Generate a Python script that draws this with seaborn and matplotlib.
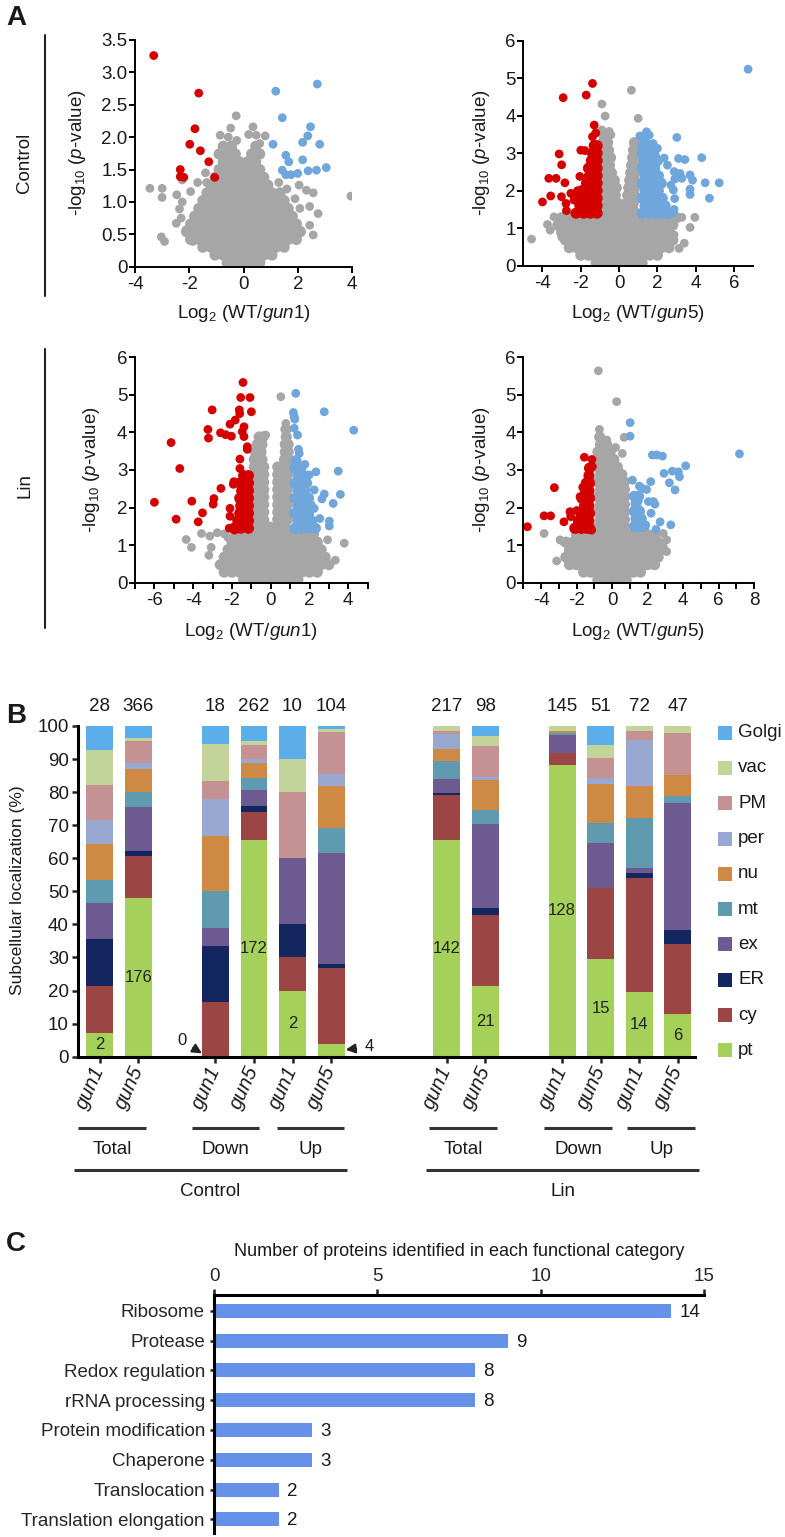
import matplotlib
matplotlib.use("Agg")
import matplotlib.pyplot as plt
import matplotlib.transforms as mtransforms
from matplotlib.lines import Line2D
from matplotlib.patches import Rectangle
import seaborn as sns

# ======================= DATA =======================
# ---- Panel A: volcano plots (log2 ratio, -log10 p) ----
# dense gray clouds given as rows: (y, [x, x, ...])
tl_gray_core = [
    (0.06, [-0.6, -0.3, 0, 0.3, 0.6]),
    (0.18, [-1.05, -0.75, -0.45, -0.15, 0.15, 0.45, 0.75, 1.05]),
    (0.30, [-1.5, -1.2, -0.9, -0.6, -0.3, 0, 0.3, 0.6, 0.9, 1.2, 1.5]),
    (0.42, [-1.95, -1.65, -1.35, -1.05, -0.75, -0.45, -0.15, 0.15, 0.45, 0.75, 1.05, 1.35, 1.65, 1.95]),
    (0.54, [-2.1, -1.8, -1.5, -1.2, -0.9, -0.6, -0.3, 0, 0.3, 0.6, 0.9, 1.2, 1.5, 1.8, 2.1]),
    (0.66, [-1.95, -1.65, -1.35, -1.05, -0.75, -0.45, -0.15, 0.15, 0.45, 0.75, 1.05, 1.35, 1.65, 1.95]),
    (0.78, [-1.8, -1.5, -1.2, -0.9, -0.6, -0.3, 0, 0.3, 0.6, 0.9, 1.2, 1.5, 1.8]),
    (0.90, [-1.65, -1.35, -1.05, -0.75, -0.45, -0.15, 0.15, 0.45, 0.75, 1.05, 1.35, 1.65]),
    (1.02, [-1.5, -1.2, -0.9, -0.6, -0.3, 0, 0.3, 0.6, 0.9, 1.2, 1.5]),
    (1.14, [-1.35, -1.05, -0.75, -0.45, -0.15, 0.15, 0.45, 0.75, 1.05, 1.35]),
    (1.26, [-1.2, -0.9, -0.6, -0.3, 0, 0.3, 0.6, 0.9]),
    (1.38, [-1.05, -0.75, -0.45, -0.15, 0.15, 0.45, 0.75]),
    (1.50, [-0.9, -0.6, -0.3, 0, 0.3, 0.6]),
    (1.62, [-0.75, -0.45, -0.15, 0.15, 0.45]),
    (1.74, [-0.9, -0.6, -0.3, 0.3, 0.6]),
    (1.86, [-0.75, -0.45, 0.45]),
]
tl_gray_pts = [(-3.45, 1.21), (-3.0, 1.21), (-3.0, 1.07), (-2.46, 1.11), (-2.26, 1.34), (-1.95, 1.16),
               (-1.69, 1.30), (-1.36, 1.30), (-2.36, 0.89), (-2.48, 0.67), (-2.26, 1.0), (-3.03, 0.46),
               (-2.91, 0.39), (-1.87, 0.39), (-2.12, 0.57), (-0.27, 2.33), (-0.47, 2.14), (-0.86, 2.03),
               (-0.56, 2.0), (0.19, 2.04), (0.35, 2.16), (0.47, 2.03), (0.8, 2.02), (3.96, 1.09),
               (2.57, 1.14), (2.32, 1.18), (2.05, 1.26), (2.44, 0.93), (2.08, 0.9), (2.75, 0.82),
               (2.44, 0.64), (2.57, 0.49), (2.08, 0.57), (1.78, 0.72), (-0.25, 1.95), (-0.4, 1.85),
               (0.6, 1.9), (-2.3, 0.75), (-1.4, 1.45), (1.3, 1.3), (1.6, 1.2), (1.9, 1.05)]
tl_red_core = []
tl_red_pts = [(-3.31, 3.26), (-1.65, 2.68), (-1.79, 2.13), (-1.98, 1.89), (-1.59, 1.79), (-1.28, 1.62),
              (-2.33, 1.50), (-2.33, 1.39), (-2.2, 1.38), (-1.06, 1.38)]
tl_blue_core = []
tl_blue_pts = [(1.19, 2.71), (2.72, 2.82), (1.43, 2.30), (2.47, 2.16), (2.37, 2.02), (2.18, 1.92),
               (2.81, 1.89), (1.09, 1.89), (1.56, 1.72), (1.67, 1.62), (2.18, 1.65), (1.43, 1.49),
               (1.56, 1.42), (1.75, 1.42), (2.0, 1.44), (2.38, 1.48), (2.69, 1.49), (3.05, 1.53)]

tr_gray_core = [
    (0.08, [-1.2, -0.8, -0.4, 0, 0.4, 0.8, 1.2]),
    (0.28, [-2.0, -1.6, -1.2, -0.8, -0.4, 0, 0.4, 0.8, 1.2, 1.6, 2.0]),
    (0.48, [-2.6, -2.2, -1.8, -1.4, -1.0, -0.6, -0.2, 0.2, 0.6, 1.0, 1.4, 1.8, 2.2, 2.6]),
    (0.68, [-2.8, -2.4, -2.0, -1.6, -1.2, -0.8, -0.4, 0, 0.4, 0.8, 1.2, 1.6, 2.0, 2.4, 2.8]),
    (0.88, [-3.0, -2.6, -2.2, -1.8, -1.4, -1.0, -0.6, -0.2, 0.2, 0.6, 1.0, 1.4, 1.8, 2.2, 2.6]),
    (1.08, [-3.2, -2.8, -2.4, -2.0, -1.6, -1.2, -0.8, -0.4, 0, 0.4, 0.8, 1.2, 1.6, 2.0, 2.4, 2.8]),
    (1.28, [-3.0, -2.6, -2.2, -1.8, -1.4, -1.0, -0.6, -0.2, 0.2, 0.6, 1.0, 1.4, 1.8, 2.2, 2.6, 3.0]),
    (1.48, [-0.85, -0.45, -0.05, 0.35, 0.75]),
    (1.68, [-0.7, -0.35, -0.1, 0.4, 0.75]),
    (1.88, [-0.85, -0.5, -0.2, 0.45, 0.8]),
    (2.08, [-0.7, -0.35, -0.15, 0.5, 0.8]),
    (2.28, [-0.85, -0.5, -0.25, 0.55, 0.8]),
    (2.48, [-0.75, -0.4, 0.6, 0.85]),
    (2.68, [-0.85, -0.5, 0.65, 0.85]),
    (2.88, [-0.7, -0.45, 0.7, 0.9]),
    (3.08, [-0.85, -0.55, 0.75, 0.9]),
    (3.28, [-0.85, -0.6, 0.8]),
    (3.48, [-0.8]),
]
tr_gray_pts = [(-4.57, 0.71), (-3.74, 1.10), (-2.99, 0.76), (-2.87, 0.95), (-0.90, 4.31), (-0.73, 3.99),
               (-0.90, 3.62), (-0.52, 3.58), (-0.43, 3.49), (0.64, 4.68), (0.99, 3.93), (3.27, 1.29),
               (3.95, 1.29), (3.70, 1.02), (3.13, 0.46), (2.87, 0.82), (-3.4, 1.3), (-3.6, 0.95), (3.4, 0.6)]
tr_red_core = [
    (1.40, [-2.25, -1.85, -1.5, -1.15]),
    (1.60, [-2.05, -1.7, -1.4, -1.15]),
    (1.80, [-2.25, -1.85, -1.5, -1.15]),
    (2.00, [-1.95, -1.6, -1.35, -1.15]),
    (2.20, [-1.7, -1.4, -1.15]),
    (2.40, [-1.55, -1.35, -1.15]),
    (2.60, [-1.6, -1.35, -1.15]),
    (2.80, [-1.45, -1.15]),
    (3.00, [-1.4, -1.15]),
    (3.20, [-1.3, -1.15]),
]
tr_red_pts = [(-1.39, 4.86), (-1.72, 4.55), (-2.92, 4.48), (-1.30, 3.75), (-1.22, 3.54), (-1.39, 3.44),
              (-3.13, 2.98), (-3.0, 2.69), (-3.67, 2.33), (-3.29, 2.33), (-2.83, 2.21), (-2.0, 3.08),
              (-1.79, 3.07), (-2.05, 2.38), (-4.0, 1.70), (-3.57, 1.86), (-3.01, 1.84), (-2.77, 1.66),
              (-2.75, 1.47), (-2.52, 1.93), (-2.35, 1.75), (-2.17, 2.0)]
tr_blue_core = [
    (1.40, [1.2, 1.55, 1.9, 2.25, 2.55]),
    (1.60, [1.35, 1.7, 2.05, 2.4]),
    (1.80, [1.2, 1.55, 1.9, 2.25]),
    (2.00, [1.35, 1.7, 2.05]),
    (2.20, [1.2, 1.55, 1.9, 2.2]),
    (2.40, [1.35, 1.7, 2.05]),
    (2.60, [1.2, 1.55, 1.85]),
    (2.80, [1.3, 1.65, 2.0]),
    (3.00, [1.2, 1.5, 1.8]),
    (3.20, [1.25, 1.55]),
    (3.40, [1.3]),
]
tr_blue_pts = [(6.73, 5.24), (1.43, 3.57), (1.57, 3.48), (1.08, 3.46), (3.01, 3.42), (1.77, 3.26),
               (2.0, 3.13), (4.31, 2.88), (3.1, 2.86), (3.43, 2.83), (1.91, 2.91), (2.35, 2.87),
               (2.52, 2.68), (2.87, 2.51), (3.18, 2.46), (3.70, 2.42), (3.83, 2.28), (4.49, 2.21),
               (5.22, 2.21), (3.27, 2.33), (2.90, 2.31), (2.70, 2.15), (2.83, 2.02), (3.70, 2.04),
               (3.70, 1.90), (4.71, 1.80), (2.90, 1.79), (2.43, 1.48), (2.87, 1.50), (2.82, 1.40)]

bl_gray_core = [
    (0.08, [-1.4, -1.0, -0.6, -0.2, 0.2, 0.6, 1.0, 1.4]),
    (0.28, [-2.4, -2.0, -1.6, -1.2, -0.8, -0.4, 0, 0.4, 0.8, 1.2, 1.6, 2.0, 2.4]),
    (0.48, [-2.6, -2.2, -1.8, -1.4, -1.0, -0.6, -0.2, 0.2, 0.6, 1.0, 1.4, 1.8, 2.2, 2.6, 3.0]),
    (0.68, [-2.4, -2.0, -1.6, -1.2, -0.8, -0.4, 0, 0.4, 0.8, 1.2, 1.6, 2.0, 2.4, 2.8]),
    (0.88, [-2.2, -1.8, -1.4, -1.0, -0.6, -0.2, 0.2, 0.6, 1.0, 1.4, 1.8, 2.2, 2.6]),
    (1.08, [-2.0, -1.6, -1.2, -0.8, -0.4, 0, 0.4, 0.8, 1.2, 1.6, 2.0, 2.4]),
    (1.28, [-1.8, -1.4, -1.0, -0.6, -0.2, 0.2, 0.6, 1.0, 1.4, 1.8, 2.2]),
    (1.48, [-0.85, -0.45, -0.05, 0.35, 0.75]),
    (1.68, [-0.85, -0.6, -0.36, 0.36, 0.6, 0.85]),
    (1.88, [-0.85, -0.6, -0.36, 0.36, 0.6, 0.85]),
    (2.08, [-0.85, -0.6, -0.36, 0.36, 0.6, 0.85]),
    (2.28, [-0.85, -0.6, -0.36, 0.36, 0.6, 0.85]),
    (2.48, [-0.85, -0.6, -0.36, 0.36, 0.6, 0.85]),
    (2.68, [-0.85, -0.6, -0.36, 0.36, 0.6, 0.85]),
    (2.88, [-0.85, -0.6, -0.36, 0.36, 0.6, 0.85]),
    (3.08, [-0.85, -0.6, -0.36, 0.36, 0.6, 0.85]),
    (3.28, [-0.85, -0.6, -0.45, 0.71, 0.9]),
    (3.48, [-0.8, -0.5, 0.75, 0.9]),
    (3.68, [-0.7, -0.45, 0.75, 0.9]),
    (3.88, [-0.6, -0.4, 0.8]),
    (4.08, [0.78]),
]
bl_gray_pts = [(-4.36, 1.15), (-4.09, 0.94), (-3.57, 1.31), (-3.14, 1.24), (-3.07, 0.94), (-3.19, 0.73),
               (-2.76, 1.33), (3.79, 1.05), (2.93, 1.14), (2.84, 0.69), (2.67, 0.51), (3.33, 0.6),
               (0.52, 4.95), (-0.26, 3.93), (0.78, 4.24), (-2.4, 1.3), (-2.2, 1.2)]
bl_red_core = [
    (1.45, [-1.9, -1.55, -1.15]),
    (1.65, [-1.7, -1.4, -1.15]),
    (1.85, [-1.6, -1.35, -1.15]),
    (2.05, [-1.55, -1.15]),
    (2.25, [-1.6, -1.35, -1.15]),
    (2.45, [-1.5, -1.15]),
    (2.65, [-1.6, -1.35, -1.15]),
    (2.85, [-1.4, -1.15]),
]
bl_red_pts = [(-6.0, 2.14), (-5.14, 3.73), (-4.69, 3.04), (-4.88, 1.69), (-4.07, 2.17), (-3.74, 1.62),
              (-3.52, 1.86), (-3.02, 4.60), (-3.24, 4.08), (-3.21, 3.85), (-2.97, 2.09), (-2.93, 2.24),
              (-2.57, 2.51), (-2.59, 3.99), (-2.33, 3.94), (-2.03, 3.90), (-2.10, 4.22), (-1.83, 4.33),
              (-1.62, 4.60), (-1.6, 4.5), (-1.43, 5.33), (-1.55, 4.93), (-1.07, 4.93), (-1.0, 4.55),
              (-1.38, 4.15), (-1.47, 4.02), (-1.38, 3.89), (-1.21, 3.62), (-1.21, 3.55), (-1.59, 3.29),
              (-1.59, 3.04), (-1.9, 2.69), (-1.93, 2.62), (-2.10, 1.98), (-2.1, 1.77), (-2.14, 1.45),
              (-1.86, 1.40)]
bl_blue_core = [
    (1.45, [1.25, 1.6, 1.95, 2.3]),
    (1.65, [1.4, 1.75, 2.1]),
    (1.85, [1.25, 1.6, 1.95]),
    (2.05, [1.4, 1.75, 2.05]),
    (2.25, [1.25, 1.6, 1.95]),
    (2.45, [1.4, 1.75]),
    (2.65, [1.25, 1.6, 1.85]),
    (2.85, [1.4, 1.7]),
    (3.05, [1.25, 1.55]),
    (3.25, [1.3]),
]
bl_blue_pts = [(1.29, 5.04), (1.17, 4.53), (1.21, 4.42), (1.24, 4.35), (2.76, 4.55), (4.28, 4.06),
               (1.21, 4.11), (1.38, 3.93), (1.43, 3.55), (1.47, 3.44), (1.76, 3.15), (2.33, 2.95),
               (3.48, 2.97), (2.76, 2.36), (2.64, 2.23), (3.22, 2.11), (3.59, 2.35), (2.24, 2.47),
               (2.24, 1.98), (2.53, 1.71), (3.02, 1.64), (3.02, 1.51), (1.98, 2.87)]

br_gray_core = [
    (0.08, [-0.8, -0.4, 0, 0.4, 0.8]),
    (0.28, [-1.6, -1.2, -0.8, -0.4, 0, 0.4, 0.8, 1.2, 1.6]),
    (0.48, [-2.4, -2.0, -1.6, -1.2, -0.8, -0.4, 0, 0.4, 0.8, 1.2, 1.6, 2.0, 2.4]),
    (0.68, [-2.6, -2.2, -1.8, -1.4, -1.0, -0.6, -0.2, 0.2, 0.6, 1.0, 1.4, 1.8, 2.2, 2.6]),
    (0.88, [-2.4, -2.0, -1.6, -1.2, -0.8, -0.4, 0, 0.4, 0.8, 1.2, 1.6, 2.0, 2.4, 2.8]),
    (1.08, [-2.6, -2.2, -1.8, -1.4, -1.0, -0.6, -0.2, 0.2, 0.6, 1.0, 1.4, 1.8, 2.2, 2.6]),
    (1.28, [-2.0, -1.6, -1.2, -0.8, -0.4, 0, 0.4, 0.8, 1.2, 1.6, 2.0, 2.4]),
    (1.48, [-0.8, -0.4, 0, 0.4, 0.7]),
    (1.68, [-0.65, -0.25, 0.15, 0.55, 0.7]),
    (1.88, [-0.8, -0.4, 0, 0.4, 0.7]),
    (2.08, [-0.65, -0.25, 0.15, 0.55, 0.7]),
    (2.28, [-0.8, -0.4, 0, 0.4, 0.7]),
    (2.48, [-0.65, -0.25, 0.15, 0.55, 0.7]),
    (2.68, [-0.8, -0.4, 0, 0.4, 0.7]),
    (2.88, [-0.65, -0.25, 0.15, 0.55]),
    (3.08, [-0.8, -0.45, -0.05, 0.3]),
    (3.28, [-0.65, -0.25, 0.1]),
    (3.48, [-0.8, -0.45, -0.1]),
    (3.68, [-0.65, -0.3]),
    (3.88, [-0.7]),
]
br_gray_pts = [(-0.77, 5.64), (0.26, 4.82), (-0.71, 4.08), (0.68, 3.87), (0.58, 3.44), (-3.83, 1.31),
               (-3.12, 0.58), (-2.93, 1.14), (-2.74, 1.09), (2.89, 1.31), (3.08, 1.14), (2.89, 0.96),
               (3.08, 0.83), (2.42, 0.47), (-0.3, 3.8), (0.2, 3.6), (0.5, 2.9)]
br_red_core = [
    (1.45, [-2.1, -1.75, -1.45, -1.27]),
    (1.65, [-1.9, -1.6, -1.3]),
    (1.85, [-1.75, -1.5, -1.27]),
    (2.05, [-1.55, -1.3]),
    (2.25, [-1.7, -1.45, -1.27]),
    (2.45, [-1.5, -1.3]),
    (2.65, [-1.45, -1.27]),
    (2.85, [-1.3]),
    (3.05, [-1.27]),
]
br_red_pts = [(-4.77, 1.49), (-3.83, 1.78), (-3.46, 1.78), (-3.25, 2.53), (-2.71, 1.62), (-2.33, 1.76),
              (-2.37, 1.89), (-2.05, 1.42), (-1.71, 1.42), (-1.56, 3.34), (-1.13, 3.28), (-1.11, 3.09),
              (-1.65, 2.54), (-1.8, 2.29), (-1.65, 2.2), (-1.99, 1.92), (-1.43, 2.02), (-1.24, 1.85),
              (-1.33, 1.62), (-1.15, 1.4)]
br_blue_core = [
    (1.5, [1.25, 1.55, 1.8]),
    (1.7, [1.35, 1.65]),
    (1.9, [1.25, 1.55]),
    (2.1, [1.35]),
    (2.3, [1.25, 1.5]),
]
br_blue_pts = [(7.18, 3.43), (1.02, 4.26), (1.02, 3.90), (2.27, 3.40), (2.52, 3.40), (2.84, 3.37),
               (3.40, 2.97), (3.74, 2.95), (4.15, 3.11), (3.8, 2.82), (2.93, 2.91), (1.15, 2.73),
               (1.54, 2.57), (1.71, 2.51), (2.18, 2.69), (1.95, 2.48), (3.23, 2.66), (3.55, 2.47),
               (2.05, 2.16), (2.33, 2.16), (2.42, 2.09), (1.48, 2.18), (2.2, 1.85), (2.71, 1.62),
               (3.31, 1.54), (2.48, 1.42), (1.9, 1.54)]

# ---- Panel B: subcellular localization counts per bar ----
bar_conditions = ["Control"] * 6 + ["Lin"] * 6
bar_sets = ["Total", "Total", "Down", "Down", "Up", "Up"] * 2
bar_genotypes = ["gun1", "gun5"] * 6
bar_totals = [28, 366, 18, 262, 10, 104, 217, 98, 145, 51, 72, 47]
loc_categories = ["pt", "cy", "ER", "ex", "mt", "nu", "per", "PM", "vac", "Golgi"]
cnt_pt = [2, 176, 0, 172, 2, 4, 142, 21, 128, 15, 14, 6]
cnt_cy = [4, 46, 3, 22, 1, 24, 30, 21, 5, 11, 25, 10]
cnt_ER = [4, 6, 3, 5, 1, 1, 1, 2, 0, 0, 1, 2]
cnt_ex = [3, 48, 1, 12, 2, 35, 9, 25, 8, 7, 1, 18]
cnt_mt = [2, 17, 2, 10, 0, 8, 12, 4, 1, 3, 11, 1]
cnt_nu = [3, 25, 3, 12, 0, 13, 8, 9, 1, 6, 7, 3]
cnt_per = [2, 7, 2, 3, 0, 4, 10, 1, 0, 1, 10, 0]
cnt_PM = [3, 24, 1, 11, 2, 13, 2, 9, 0, 3, 2, 6]
cnt_vac = [3, 4, 2, 3, 1, 1, 3, 3, 2, 2, 1, 1]
cnt_Golgi = [2, 13, 1, 12, 1, 1, 0, 3, 0, 3, 0, 0]

# ---- Panel C: functional categories ----
func_categories = ["Ribosome", "Protease", "Redox regulation", "rRNA processing",
                   "Protein modification", "Chaperone", "Translocation", "Translation elongation"]
func_counts = [14, 9, 8, 8, 3, 3, 2, 2]

# ======================= STYLE =======================
sns.set_theme(style="ticks")
plt.rcParams["font.family"] = ["Liberation Sans", "DejaVu Sans"]
plt.rcParams["mathtext.fontset"] = "custom"
plt.rcParams["mathtext.rm"] = "Liberation Sans"
plt.rcParams["mathtext.it"] = "Liberation Sans:italic"
plt.rcParams["mathtext.bf"] = "Liberation Sans:bold"
plt.rcParams["text.color"] = "#1a1a1a"

GRAY, RED, BLUE = "#A6A6A6", "#D40000", "#6FA6DC"
S_PT, S_CORE = 40, 64
LOC_COLORS = {"Golgi": "#5BAEEA", "vac": "#C3D49B", "PM": "#C49292", "per": "#98A8D0",
              "nu": "#CE8A45", "mt": "#5F9AAE", "ex": "#6C5A90", "ER": "#142660",
              "cy": "#9B4545", "pt": "#A5D15A"}
FS = 13.5

W, H = 785, 1537
fig = plt.figure(figsize=(W / 100, H / 100), dpi=100)


def box(x0, y0, x1, y1):
    return [x0 / W, 1 - y1 / H, (x1 - x0) / W, (y1 - y0) / H]


def fx(x):
    return x / W


def fy(y):
    return 1 - y / H


def rows_xy(rows):
    xs, ys = [], []
    for y, xl in rows:
        for x in xl:
            xs.append(x)
            ys.append(y)
    return xs, ys


def volcano(ax, layers):
    for data, col, s, is_rows in layers:
        if is_rows:
            xs, ys = rows_xy(data)
        else:
            xs = [p[0] for p in data]
            ys = [p[1] for p in data]
        if xs:
            sns.scatterplot(x=xs, y=ys, color=col, s=s, linewidth=0, edgecolor="none",
                            legend=False, ax=ax)


def style_volcano(ax, xlim, ylim, xticks, xlabels, yticks, ylabels):
    ax.set_xlim(*xlim)
    ax.set_ylim(*ylim)
    ax.set_xticks(xticks)
    ax.set_xticklabels(xlabels, fontsize=FS)
    ax.set_yticks(yticks)
    ax.set_yticklabels(ylabels, fontsize=FS)
    for s in ["top", "right"]:
        ax.spines[s].set_visible(False)
    for s in ["left", "bottom"]:
        ax.spines[s].set_color("black")
        ax.spines[s].set_linewidth(1.4)
    ax.tick_params(direction="out", length=4, width=1.4, color="black", labelcolor="#1a1a1a")
    ax.tick_params(axis="x", pad=3)
    ax.tick_params(axis="y", pad=1.5)
    ax.set_xlabel("")
    ax.set_ylabel("")


def even_labels(rng):
    return [str(v) if v % 2 == 0 else "" for v in rng]


panels = [
    (box(135, 40, 352, 266.7), tl_gray_core, tl_gray_pts, tl_red_core, tl_red_pts, tl_blue_core, tl_blue_pts,
     (-4, 4), (0, 3.5), [-4, -2, 0, 2, 4], ["-4", "-2", "0", "2", "4"],
     [0, 0.5, 1, 1.5, 2, 2.5, 3, 3.5], ["0", "0.5", "1.0", "1.5", "2.0", "2.5", "3.0", "3.5"]),
    (box(523.3, 40.7, 753.3, 265.7), tr_gray_core, tr_gray_pts, tr_red_core, tr_red_pts, tr_blue_core, tr_blue_pts,
     (-5, 7), (0, 6), [-4, -2, 0, 2, 4, 6], ["-4", "-2", "0", "2", "4", "6"],
     list(range(7)), [str(v) for v in range(7)]),
    (box(135, 357.3, 367.7, 582.7), bl_gray_core, bl_gray_pts, bl_red_core, bl_red_pts, bl_blue_core, bl_blue_pts,
     (-7, 5), (0, 6), list(range(-7, 6)), even_labels(range(-7, 6)),
     list(range(7)), [str(v) for v in range(7)]),
    (box(523.3, 357.3, 754, 582.7), br_gray_core, br_gray_pts, br_red_core, br_red_pts, br_blue_core, br_blue_pts,
     (-5, 8), (0, 6), list(range(-5, 9)), even_labels(range(-5, 9)),
     list(range(7)), [str(v) for v in range(7)]),
]
for (rect, gc, gp, rc, rp, bc, bp, xlim, ylim, xt, xl, yt, yl) in panels:
    ax = fig.add_axes(rect)
    volcano(ax, [(gc, GRAY, S_CORE, True), (gp, GRAY, S_PT, False),
                 (rc, RED, S_CORE, True), (rp, RED, S_PT, False),
                 (bc, BLUE, S_CORE, True), (bp, BLUE, S_PT, False)])
    style_volcano(ax, xlim, ylim, xt, xl, yt, yl)

ylab = r"-log$_{10}$ ($\it{p}$-value)"
for (x, y) in [(78, 153), (482, 153), (92, 470), (482, 470)]:
    fig.text(fx(x), fy(y), ylab, rotation=90, ha="center", va="center", fontsize=FS)
for (x, y, g) in [(244, 314, "gun1"), (638, 314, "gun5"), (251, 631, "gun1"), (638, 631, "gun5")]:
    fig.text(fx(x), fy(y), r"Log$_2$ (WT/$\it{" + g + "}$)", ha="center", va="center", fontsize=FS)

fig.text(fx(25), fy(163), "Control", rotation=90, ha="center", va="center", fontsize=FS)
fig.text(fx(25), fy(485), "Lin", rotation=90, ha="center", va="center", fontsize=FS)
fig.add_artist(Line2D([fx(45), fx(45)], [fy(35), fy(296)], color="#222222", lw=1.5))
fig.add_artist(Line2D([fx(45), fx(45)], [fy(349), fy(628)], color="#222222", lw=1.5))

# ======================= PANEL B =======================
axb = fig.add_axes(box(78, 726, 695, 1056.7))
positions = [0, 1, 3, 4, 5, 6, 9, 10, 12, 13, 14, 15]
counts = {"pt": cnt_pt, "cy": cnt_cy, "ER": cnt_ER, "ex": cnt_ex, "mt": cnt_mt, "nu": cnt_nu,
          "per": cnt_per, "PM": cnt_PM, "vac": cnt_vac, "Golgi": cnt_Golgi}
cum = {}
running = [0.0] * len(positions)
for c in loc_categories:
    running = [r + 100.0 * v / t for r, v, t in zip(running, counts[c], bar_totals)]
    cum[c] = list(running)
for c in reversed(loc_categories):
    sns.barplot(x=positions, y=cum[c], native_scale=True, orient="x", color=LOC_COLORS[c],
                saturation=1, width=0.7, linewidth=0, errorbar=None, ax=axb)

axb.set_xlim(-0.57, 15.45)
axb.set_ylim(0, 100)
axb.set_yticks(range(0, 101, 10))
axb.set_yticklabels([str(v) for v in range(0, 101, 10)], fontsize=FS)
axb.set_xticks(positions)
axb.set_xticklabels(bar_genotypes, rotation=66, ha="right", va="center", rotation_mode="anchor",
                    fontstyle="italic", fontsize=14.5)
for s in ["top", "right"]:
    axb.spines[s].set_visible(False)
for s in ["left", "bottom"]:
    axb.spines[s].set_color("black")
    axb.spines[s].set_linewidth(2.2)
axb.tick_params(direction="out", length=4.5, width=1.8, color="#222222", labelcolor="#1a1a1a")
axb.tick_params(axis="x", pad=3)
axb.tick_params(axis="y", pad=2)
axb.set_xlabel("")
axb.set_ylabel("")

# totals above bars and pt counts inside
for p, t, ptc, ptop in zip(positions, bar_totals, cnt_pt, cum["pt"]):
    axb.text(p, 105.8, str(t), ha="center", va="center", fontsize=FS, clip_on=False)
    if ptc not in (0, 4):
        axb.text(p, ptop / 2.0, str(ptc), ha="center", va="center", fontsize=12, color="#222222")
axb.annotate("0", xy=(2.65, 1.0), xytext=(2.12, 4.8), fontsize=12, ha="center", va="center",
             arrowprops=dict(arrowstyle="-|>", color="#222222", lw=1.5, mutation_scale=14,
                             shrinkA=3, shrinkB=0))
axb.annotate("4", xy=(6.38, 2.1), xytext=(7.0, 3.0), fontsize=12, ha="center", va="center",
             arrowprops=dict(arrowstyle="-|>", color="#222222", lw=1.5, mutation_scale=14,
                             shrinkA=4, shrinkB=0), annotation_clip=False)

fig.text(fx(18), fy(890), "Subcellular localization (%)", rotation=90, ha="center", va="center",
         fontsize=12.5)

# group brackets
blend = mtransforms.blended_transform_factory(axb.transData, fig.transFigure)
short_groups = [(-0.57, 1.19, "Total"), (2.39, 4.13, "Down"), (4.6, 6.34, "Up"),
                (8.55, 10.31, "Total"), (11.53, 13.3, "Down"), (13.69, 15.45, "Up")]
for x0, x1, lab in short_groups:
    axb.plot([x0, x1], [fy(1128.3), fy(1128.3)], transform=blend, color="#333333", lw=2.2,
             clip_on=False, solid_capstyle="butt")
    axb.text((x0 + x1) / 2, fy(1149), lab, transform=blend, ha="center", va="center", fontsize=FS)
for x0, x1, lab in [(-0.68, 6.42, "Control"), (8.47, 15.56, "Lin")]:
    axb.plot([x0, x1], [fy(1170), fy(1170)], transform=blend, color="#333333", lw=2.2,
             clip_on=False, solid_capstyle="butt")
    axb.text((x0 + x1) / 2, fy(1192), lab, transform=blend, ha="center", va="center", fontsize=FS)

# legend
for i, c in enumerate(reversed(loc_categories)):
    yc = 732.7 + i * 35.3
    fig.add_artist(Rectangle((fx(718), fy(yc + 7)), 14 / W, 14 / H, facecolor=LOC_COLORS[c],
                             edgecolor="none"))
    fig.text(fx(738), fy(yc), c, ha="left", va="center", fontsize=FS)

# ======================= PANEL C =======================
axc = fig.add_axes(box(214, 1295, 704, 1533))
sns.barplot(x=func_counts, y=func_categories, orient="y", color="#6591E8", saturation=1,
            width=0.47, linewidth=0, errorbar=None, ax=axc)
axc.set_xlim(0, 15)
axc.set_ylim(7.46, -0.53)
axc.xaxis.tick_top()
axc.set_xticks([0, 5, 10, 15])
axc.set_xticklabels(["0", "5", "10", "15"], fontsize=FS)
axc.tick_params(axis="x", top=True, bottom=False, labeltop=True, labelbottom=False,
                direction="out", length=4.5, width=1.8, color="#222222", pad=2.5)
axc.tick_params(axis="y", left=True, direction="out", length=3, width=1.8, color="#222222",
                pad=3.5, labelsize=FS)
for s in ["bottom", "right"]:
    axc.spines[s].set_visible(False)
for s in ["left", "top"]:
    axc.spines[s].set_color("black")
    axc.spines[s].set_linewidth(2.2)
axc.set_xlabel("")
axc.set_ylabel("")
for i, v in enumerate(func_counts):
    axc.text(v + 0.25, i + 0.05, str(v), ha="left", va="center", fontsize=FS)
fig.text(fx(459), fy(1252), "Number of proteins identified in each functional category",
         ha="center", va="center", fontsize=13)

# panel letters
for lab, y in [("A", 18), ("B", 716), ("C", 1244)]:
    fig.text(fx(6), fy(y), lab, ha="left", va="center", fontsize=20, fontweight="bold")

fig.savefig("out.png", dpi=100)
